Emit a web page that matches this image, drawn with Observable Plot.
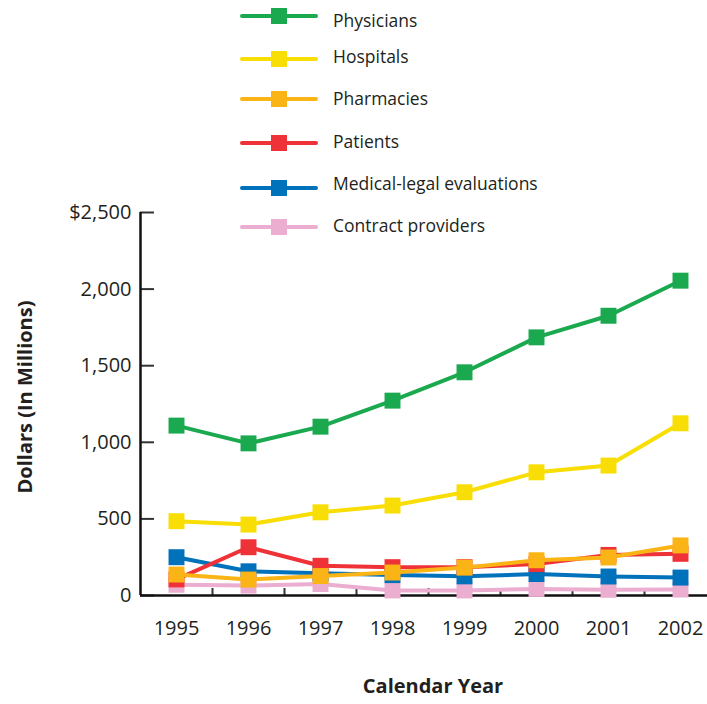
<!DOCTYPE html>
<html>
<head>
<meta charset="utf-8">
<script src="https://cdn.jsdelivr.net/npm/d3@7"></script>
<script src="https://cdn.jsdelivr.net/npm/@observablehq/plot@0.6"></script>
<style>
  html, body { margin: 0; padding: 0; background: #fff; }
  #wrap { position: relative; width: 707px; height: 704px; font-family: "Open Sans", sans-serif; color: #231f20; }
  #legend { position: absolute; left: 0; top: 0; }
</style>
</head>
<body>
<div id="wrap"><div id="chart"></div><svg id="legend" width="707" height="245"></svg></div>
<script>
const years = [1995, 1996, 1997, 1998, 1999, 2000, 2001, 2002];
const seriesNames = ["Physicians", "Hospitals", "Pharmacies", "Patients", "Medical-legal evaluations", "Contract providers"];
const seriesColors = ["#1ba94f", "#f8de05", "#fbb416", "#ee3237", "#0071bb", "#ebadd0"];
const physicians = [1109, 993, 1102, 1272, 1457, 1685, 1826, 2055];
const hospitals = [485, 463, 543, 587, 674, 804, 848, 1124];
const pharmacies = [137, 104, 127, 150, 182, 230, 248, 327];
const patients = [105, 315, 194, 185, 185, 205, 265, 272];
const medicalLegal = [250, 158, 145, 133, 125, 140, 124, 117];
const contractProviders = [70, 65, 75, 33, 33, 43, 37, 39];
const yTickValues = [0, 500, 1000, 1500, 2000, 2500];
const yTickLabels = ["0", "500", "1,000", "1,500", "2,000", "$2,500"];
const xTitle = "Calendar Year";
const yTitle = "Dollars (In Millions)";

const seriesValues = [physicians, hospitals, pharmacies, patients, medicalLegal, contractProviders];
const rows = seriesNames.flatMap((name, s) => years.map((year, i) => ({series: name, year, value: seriesValues[s][i]})));
const yLabelMap = new Map(yTickValues.map((v, i) => [v, yTickLabels[i]]));
const bandEdges = years.slice(1).map(y => y - 0.5);

const seriesMarks = seriesNames.map((name, s) => {
  const d = rows.filter(r => r.series === name);
  return [
    Plot.line(d, {x: "year", y: "value", stroke: seriesColors[s], strokeWidth: 4}),
    Plot.dot(d, {x: "year", y: "value", symbol: "square", r: 9, fill: seriesColors[s], stroke: "none"})
  ];
}).reverse();

const chart = Plot.plot({
  width: 707,
  height: 704,
  marginLeft: 140,
  marginRight: 0,
  marginTop: 212,
  marginBottom: 109,
  style: {fontFamily: "'Open Sans', sans-serif", fontSize: "20px", color: "#231f20", background: "transparent"},
  x: {type: "linear", domain: [years[0] - 0.5, years[years.length - 1] + 0.5], range: [140, 716]},
  y: {domain: [0, 2500]},
  marks: [
    Plot.axisY(yTickValues, {tickSize: -14, fill: "none", label: null, stroke: "#333", strokeWidth: 2}),
    Plot.axisY(yTickValues, {tickSize: 0, tickPadding: 9, tickFormat: d => yLabelMap.get(d), label: null, fontSize: 20, fill: "#231f20"}),
    Plot.axisX(bandEdges, {tickSize: -7, fill: "none", label: null, stroke: "#333", strokeWidth: 2}),
    Plot.axisX(years, {tickSize: 0, tickPadding: 25, tickFormat: d => String(d), label: null, fontSize: 20, fill: "#231f20"}),
    Plot.ruleX([years[0] - 0.5], {stroke: "#111", strokeWidth: 2.5}),
    Plot.ruleY([0], {stroke: "#111", strokeWidth: 2.5}),
    ...seriesMarks.flat(),
    Plot.text([xTitle], {frameAnchor: "bottom", textAnchor: "middle", dx: 9, dy: 97, fontSize: 20, fontWeight: "bold", fill: "#231f20"}),
    Plot.text([yTitle], {frameAnchor: "left", textAnchor: "middle", rotate: -90, dx: -115, dy: -7, fontSize: 20, fontWeight: "bold", fill: "#231f20"})
  ]
});
document.getElementById("chart").appendChild(chart);

// Legend
const legend = d3.select("#legend");
const lineY = [16, 59, 99, 143, 188, 227];
const textY = [21, 57, 99, 142, 184, 226];
seriesNames.forEach((name, i) => {
  legend.append("line").attr("x1", 242).attr("x2", 316).attr("y1", lineY[i]).attr("y2", lineY[i])
    .attr("stroke", seriesColors[i]).attr("stroke-width", 4).attr("stroke-linecap", "round");
  legend.append("rect").attr("x", 271).attr("y", lineY[i] - 8).attr("width", 16).attr("height", 16).attr("fill", seriesColors[i]);
  legend.append("text").attr("x", 333).attr("y", textY[i]).attr("dy", "0.35em")
    .attr("font-family", "'Open Sans', sans-serif").attr("font-size", 17.5).attr("fill", "#231f20").text(name);
});
</script>
</body>
</html>
